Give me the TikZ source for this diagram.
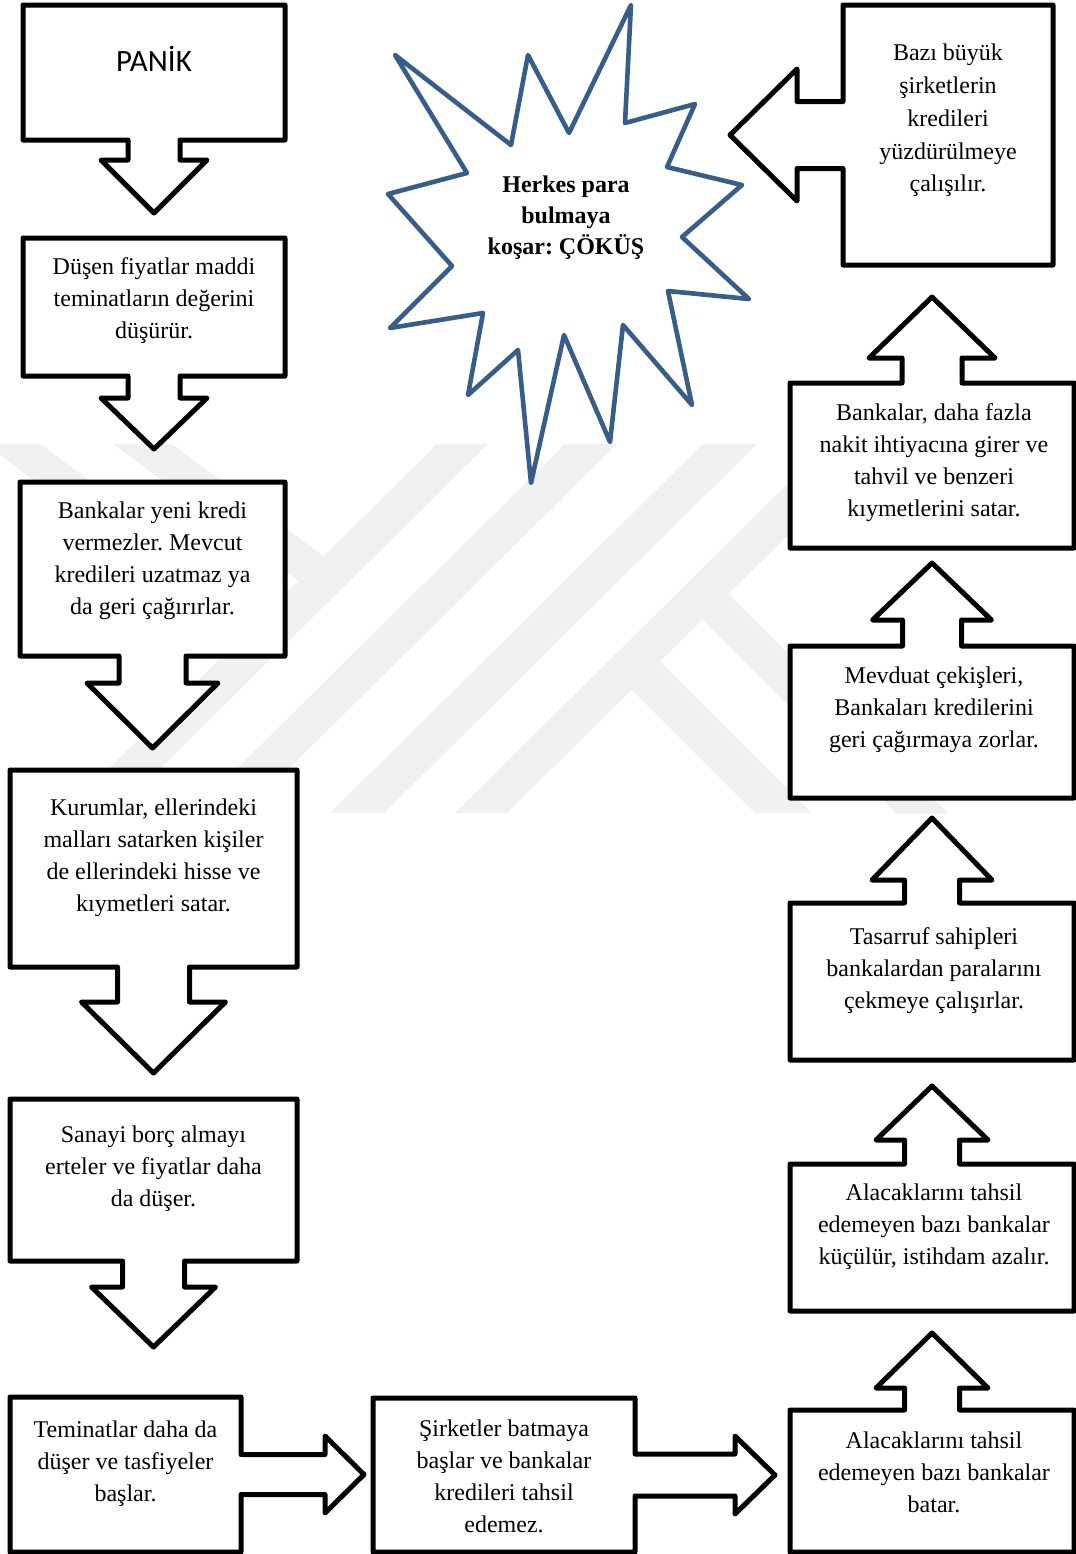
\documentclass[tikz,border=0pt]{standalone}
\usepackage{fontspec}
\setmainfont{Liberation Serif}
\newfontfamily\calibrifont{Carlito}
\usetikzlibrary{calc}
\frenchspacing
\definecolor{burstblue}{RGB}{56,93,138}
\definecolor{wmgray}{RGB}{240,240,240}
\tikzset{
  panel/.style 2 args={rectangle,draw=none,outer sep=0pt,inner sep=0pt,anchor=north west,minimum width=#1*0.5pt,minimum height=#2*0.5pt},
  callline/.style={draw=black,fill=white,line width=2.5pt,line join=round},
  burstline/.style={draw=burstblue,fill=white,line width=2.3pt,line join=round},
  txt/.style={align=center,inner sep=0pt,font=\fontsize{12pt}{16pt}\selectfont},
  bursttxt/.style={align=center,inner sep=0pt,font=\fontsize{12pt}{15.5pt}\selectfont\bfseries},
  wm/.style={fill=wmgray,draw=none}
}
% callouts: node, stem half width, stem length, head half width, head length
\newcommand{\calldown}[5]{%
  \draw[callline] (#1.north west) -- (#1.north east) -- (#1.south east)
    -- ($(#1.south)+(#2,0)$) -- ($(#1.south)+(#2,#3)$) -- ($(#1.south)+(#4,#3)$)
    -- ($(#1.south)+(0,#3+#5)$) -- ($(#1.south)+(-#4,#3)$) -- ($(#1.south)+(-#2,#3)$)
    -- ($(#1.south)+(-#2,0)$) -- (#1.south west) -- cycle;}
\newcommand{\callup}[5]{%
  \draw[callline] (#1.south west) -- (#1.south east) -- (#1.north east)
    -- ($(#1.north)+(#2,0)$) -- ($(#1.north)+(#2,-#3)$) -- ($(#1.north)+(#4,-#3)$)
    -- ($(#1.north)+(0,-#3-#5)$) -- ($(#1.north)+(-#4,-#3)$) -- ($(#1.north)+(-#2,-#3)$)
    -- ($(#1.north)+(-#2,0)$) -- (#1.north west) -- cycle;}
\newcommand{\callright}[5]{%
  \draw[callline] (#1.south west) -- (#1.north west) -- (#1.north east)
    -- ($(#1.east)+(0,-#2)$) -- ($(#1.east)+(#3,-#2)$) -- ($(#1.east)+(#3,-#4)$)
    -- ($(#1.east)+(#3+#5,0)$) -- ($(#1.east)+(#3,#4)$) -- ($(#1.east)+(#3,#2)$)
    -- ($(#1.east)+(0,#2)$) -- (#1.south east) -- cycle;}
\newcommand{\callleft}[5]{%
  \draw[callline] (#1.south east) -- (#1.north east) -- (#1.north west)
    -- ($(#1.west)+(0,-#2)$) -- ($(#1.west)+(-#3,-#2)$) -- ($(#1.west)+(-#3,-#4)$)
    -- ($(#1.west)+(-#3-#5,0)$) -- ($(#1.west)+(-#3,#4)$) -- ($(#1.west)+(-#3,#2)$)
    -- ($(#1.west)+(0,#2)$) -- (#1.south west) -- cycle;}

\begin{document}
\begin{tikzpicture}[x=0.5pt,y=-0.5pt]
  \useasboundingbox (0,0) rectangle (1076,1554);

  % faint watermark
  \begin{scope}
    \clip (0,444) rectangle (1076,813);
    \fill[wm] (437,444) -- (488,444) -- (115,813) -- (64,813) -- cycle;
    \fill[wm] (565,444) -- (617,444) -- (244,813) -- (192,813) -- cycle;
    \fill[wm] (703,444) -- (757,444) -- (384,813) -- (330,813) -- cycle;
    \fill[wm] (828,444) -- (880,444) -- (507,813) -- (455,813) -- cycle;
    \fill[wm] (-15,444) -- (40,444) -- (278,620) -- (254,644) -- cycle;
    \fill[wm] (113,444) -- (172,444) -- (334,564) -- (309,589) -- cycle;
    \fill[wm] (626,684) -- (654,655) -- (812,813) -- (755,813) -- cycle;
    \fill[wm] (697,614) -- (724,589) -- (1000,865) -- (973,890) -- cycle;
  \end{scope}

  % boxes
  \node[panel={262}{135}] (panik) at (23,5) {};
  \node[panel={262}{138}] (dusen) at (23,238) {};
  \node[panel={265}{174}] (banka) at (20,482) {};
  \node[panel={287}{197}] (kurum) at (10,770) {};
  \node[panel={287}{162}] (sanayi) at (10,1099) {};
  \node[panel={231}{155}] (temin) at (10,1397) {};
  \node[panel={262}{154}] (sirket) at (373,1398) {};
  \node[panel={284}{142}] (batar) at (790,1410) {};
  \node[panel={284}{147}] (kucul) at (790,1164) {};
  \node[panel={284}{157}] (tasar) at (790,903) {};
  \node[panel={284}{152}] (mevd) at (790,646) {};
  \node[panel={284}{165}] (nakit) at (790,383) {};
  \node[panel={210}{260}] (bazi) at (843,5) {};

  \calldown{panik}{26}{20}{53}{53}
  \calldown{dusen}{26}{22}{53}{51}
  \calldown{banka}{33.5}{27}{65.5}{65}
  \calldown{kurum}{36}{35}{72}{71}
  \calldown{sanayi}{31}{26}{62}{60}
  \callright{temin}{20}{84}{38.5}{39}
  \callright{sirket}{21}{100}{39}{40}
  \callup{batar}{27.5}{22}{56}{55}
  \callup{kucul}{27.5}{24}{56}{54}
  \callup{tasar}{27.5}{23}{60}{62}
  \callup{mevd}{29.5}{26}{59.5}{57}
  \callup{nakit}{30}{25}{63}{61}
  \callleft{bazi}{33.5}{46}{66}{67}

  \node[txt,font=\calibrifont\fontsize{15.5pt}{18pt}\selectfont] (panik-t) at (154,59) {PANİK};
  \node[txt] (dusen-t) at (154,301) {Düşen fiyatlar maddi\\teminatların değerini\\düşürür.};
  \node[txt] (banka-t) at (152.5,561) {Bankalar yeni kredi\\vermezler. Mevcut\\kredileri uzatmaz ya\\da geri çağırırlar.};
  \node[txt] (kurum-t) at (153.5,858) {Kurumlar, ellerindeki\\malları satarken kişiler\\de ellerindeki hisse ve\\kıymetleri satar.};
  \node[txt] (sanayi-t) at (153.5,1169) {Sanayi borç almayı\\erteler ve fiyatlar daha\\da düşer.};
  \node[txt] (temin-t) at (125.5,1464) {Teminatlar daha da\\düşer ve tasfiyeler\\başlar.};
  \node[txt] (sirket-t) at (504,1476) {Şirketler batmaya\\başlar ve bankalar\\kredileri tahsil\\edemez.};
  \node[txt] (batar-t) at (934,1472) {Alacaklarını tahsil\\edemeyen bazı bankalar\\batar.};
  \node[txt] (kucul-t) at (934,1227) {Alacaklarını tahsil\\edemeyen bazı bankalar\\küçülür, istihdam azalır.};
  \node[txt] (tasar-t) at (934,971) {Tasarruf sahipleri\\bankalardan paralarını\\çekmeye çalışırlar.};
  \node[txt] (mevd-t) at (934,710) {Mevduat çekişleri,\\Bankaları kredilerini\\geri çağırmaya zorlar.};
  \node[txt] (nakit-t) at (934,463) {Bankalar, daha fazla\\nakit ihtiyacına girer ve\\tahvil ve benzeri\\kıymetlerini satar.};
  \node[txt,font=\fontsize{12pt}{16.4pt}\selectfont] (bazi-t) at (948,120.5) {Bazı büyük\\şirketlerin\\kredileri\\yüzdürülmeye\\çalışılır.};

  % explosion
  \draw[burstline] (395,55) -- (511,145) -- (528,55) -- (569,133) -- (631,5) -- (625,123)
    -- (695,104) -- (667,167) -- (742,185) -- (682,237) -- (749,299) -- (668,291)
    -- (692,405) -- (623,325) -- (610,442) -- (564,335) -- (531,483) -- (518,350)
    -- (468,395) -- (483,313) -- (390,328) -- (452,266) -- (388,194) -- (467,173) -- cycle;
  \node[bursttxt] (herkes) at (566,218) {Herkes para\\bulmaya\\koşar: ÇÖKÜŞ};
\end{tikzpicture}
\end{document}
